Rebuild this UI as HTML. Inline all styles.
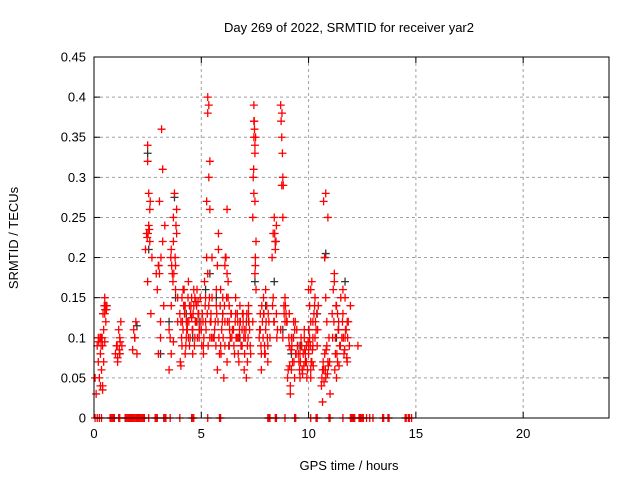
<!DOCTYPE html>
<html><head><meta charset="utf-8"><style>
body{margin:0;background:#fff;}
svg{display:block;font-family:"Liberation Sans",sans-serif;}
</style></head><body>
<svg id="chart" width="640" height="480">
<rect width="640" height="480" fill="#fff"/>
<g id="grid"></g>
<g id="ticks"></g>
<g id="pts"></g>
<rect x="94" y="57" width="515" height="361" fill="none" stroke="#000" stroke-width="1"/>
<text x="349" y="32" font-size="13" text-anchor="middle">Day 269 of 2022, SRMTID for receiver yar2</text>
<text x="349" y="470" font-size="13" text-anchor="middle">GPS time / hours</text>
<text x="0" y="0" font-size="13" text-anchor="middle" transform="translate(18,238) rotate(-90)">SRMTID / TECUs</text>
</svg>
<script>
const xTicks=[0,5,10,15,20];
const yTicks=[0,0.05,0.1,0.15,0.2,0.25,0.3,0.35,0.4,0.45];
const yTickLabels=["0","0.05","0.1","0.15","0.2","0.25","0.3","0.35","0.4","0.45"];
const redX=[0.05,0.1,0.15,0.2,0.25,0.3,0.3,0.35,0.35,0.4,0.4,0.45,0.45,0.5,0.5,0.5,0.55,0.55,0.6,0.2,0.3,0.4,
1.0,1.05,1.1,1.15,1.2,1.2,1.25,1.3,1.1,1.8,1.85,1.9,1.95,2.0,
2.4,2.45,2.5,2.5,2.55,2.55,2.6,2.6,2.65,2.5,2.7,
2.95,3.0,3.05,3.1,3.1,3.15,3.2,3.2,3.0,3.25,3.3,2.9,3.05,
3.5,3.55,3.6,3.6,3.65,3.7,3.7,3.75,3.8,3.8,3.85,3.9,3.9,3.6,3.7,3.5,3.85,
4.0,4.05,4.1,4.15,4.2,4.25,4.3,4.35,4.4,4.45,4.5,4.55,4.6,4.65,4.7,4.75,4.8,4.85,4.9,4.95,4.1,4.2,4.3,4.4,4.5,4.6,4.7,4.8,4.9,4.15,4.35,4.55,4.75,
5.0,5.05,5.1,5.15,5.2,5.25,5.3,5.3,5.35,5.35,5.4,5.4,5.4,5.45,5.5,5.5,5.1,5.2,5.3,5.45,5.55,5.35,5.25,
5.6,5.65,5.7,5.75,5.8,5.85,5.9,5.95,6.0,6.05,6.1,6.15,6.2,6.25,6.3,6.35,6.4,6.45,5.7,5.8,5.9,6.0,6.1,6.2,6.3,6.1,6.2,6.25,5.75,6.35,
6.5,6.55,6.6,6.65,6.7,6.75,6.8,6.85,6.9,6.95,7.0,7.05,7.1,7.15,7.2,7.25,7.3,6.6,6.7,6.8,6.9,7.0,7.1,7.2,6.75,6.95,7.15,
7.4,7.42,7.45,7.45,7.48,7.5,7.5,7.52,7.55,7.55,7.45,7.5,7.4,7.5,7.45,
7.7,7.75,7.8,7.85,7.9,7.95,8.0,8.05,8.1,8.15,8.2,7.8,7.9,8.0,8.1,7.75,7.95,
8.3,8.35,8.4,8.45,8.5,8.55,8.35,8.45,8.5,8.4,
8.7,8.72,8.75,8.75,8.78,8.8,8.8,8.85,8.9,8.95,8.7,8.8,8.9,9.0,
9.05,9.1,9.15,9.2,9.25,9.3,9.35,9.4,9.45,9.5,9.1,9.2,9.3,9.4,9.15,9.35,
9.55,9.6,9.65,9.7,9.75,9.8,9.85,9.9,9.95,10.0,10.05,10.1,10.15,10.2,9.6,9.7,9.8,9.9,10.0,10.1,9.65,9.85,
10.0,10.05,10.1,10.15,10.2,10.25,10.3,10.35,10.4,10.45,10.1,10.2,10.3,
10.6,10.65,10.7,10.75,10.8,10.85,10.9,10.95,11.0,10.7,10.8,10.9,10.75,10.8,10.85,10.65,
11.1,11.15,11.2,11.25,11.3,11.35,11.4,11.45,11.5,11.2,11.3,11.4,11.25,11.35,
11.55,11.6,11.65,11.7,11.75,11.8,11.85,11.9,11.95,11.6,11.7,11.8,12.3];
const redY=[0.05,0.03,0.09,0.1,0.05,0.04,0.08,0.1,0.06,0.04,0.09,0.11,0.07,0.15,0.13,0.095,0.14,0.12,0.14,0.07,0.1,0.035,
0.08,0.09,0.07,0.11,0.1,0.08,0.12,0.09,0.075,0.085,0.11,0.1,0.12,0.08,
0.21,0.23,0.34,0.32,0.28,0.24,0.22,0.26,0.13,0.17,0.2,
0.16,0.19,0.18,0.12,0.1,0.36,0.31,0.22,0.08,0.14,0.24,0.18,0.27,
0.06,0.1,0.14,0.21,0.18,0.25,0.22,0.28,0.19,0.16,0.26,0.12,0.15,0.08,0.095,0.11,0.23,
0.13,0.12,0.15,0.11,0.16,0.14,0.1,0.12,0.17,0.09,0.13,0.15,0.11,0.14,0.1,0.12,0.16,0.13,0.11,0.15,0.09,0.14,0.12,0.1,0.13,0.08,0.15,0.12,0.1,0.16,0.11,0.125,0.145,
0.11,0.13,0.09,0.17,0.12,0.2,0.4,0.38,0.39,0.3,0.32,0.26,0.1,0.13,0.15,0.2,0.08,0.15,0.18,0.12,0.1,0.14,0.27,
0.1,0.12,0.14,0.19,0.21,0.08,0.16,0.11,0.13,0.05,0.09,0.2,0.18,0.15,0.12,0.1,0.13,0.11,0.16,0.23,0.09,0.15,0.12,0.07,0.14,0.19,0.26,0.17,0.06,0.1,
0.11,0.08,0.13,0.1,0.12,0.07,0.14,0.09,0.11,0.13,0.06,0.1,0.12,0.09,0.14,0.11,0.08,0.15,0.1,0.12,0.09,0.11,0.05,0.13,0.1,0.12,0.07,
0.25,0.3,0.35,0.39,0.36,0.33,0.27,0.2,0.22,0.16,0.37,0.34,0.12,0.18,0.28,
0.1,0.13,0.08,0.12,0.15,0.09,0.11,0.14,0.07,0.12,0.1,0.06,0.13,0.16,0.09,0.11,0.08,
0.2,0.23,0.25,0.21,0.13,0.11,0.15,0.22,0.24,0.12,
0.39,0.37,0.35,0.29,0.33,0.3,0.25,0.14,0.12,0.13,0.11,0.1,0.15,0.12,
0.06,0.09,0.04,0.1,0.07,0.12,0.05,0.08,0.11,0.09,0.13,0.06,0.1,0.08,0.03,0.11,
0.07,0.05,0.09,0.06,0.08,0.1,0.07,0.09,0.06,0.08,0.1,0.05,0.07,0.09,0.08,0.06,0.11,0.07,0.09,0.06,0.1,0.08,
0.16,0.14,0.12,0.17,0.1,0.13,0.15,0.11,0.09,0.14,0.16,0.12,0.1,
0.04,0.02,0.06,0.08,0.05,0.09,0.07,0.1,0.03,0.27,0.28,0.25,0.2,0.15,0.12,0.06,
0.13,0.16,0.18,0.1,0.14,0.07,0.12,0.09,0.15,0.17,0.05,0.11,0.08,0.13,
0.1,0.13,0.08,0.15,0.11,0.07,0.12,0.09,0.14,0.16,0.1,0.12,0.09];
const redX2=[0.22,0.28,0.33,0.38,0.42,0.48,0.52,0.58,1.08,1.18,1.22,1.9,2.48,2.52,2.58,2.62,3.02,3.12,3.58,3.62,3.68,3.72,3.78,3.82,
4.02,4.08,4.12,4.18,4.22,4.28,4.32,4.38,4.42,4.48,4.52,4.58,4.62,4.68,4.72,4.78,4.82,4.88,4.92,4.98,4.05,4.25,4.45,4.65,4.85,
5.02,5.08,5.12,5.18,5.22,5.28,5.32,5.38,5.42,5.48,5.62,5.68,5.72,5.78,5.82,5.88,5.92,5.98,6.02,6.08,6.12,6.18,6.22,6.28,6.32,6.38,6.42,
6.52,6.58,6.62,6.68,6.72,6.78,6.82,6.88,6.92,6.98,7.02,7.08,7.12,7.18,7.22,7.28,7.47,7.53,7.44,7.52,
7.72,7.78,7.82,7.88,7.92,7.98,8.02,8.08,8.12,8.32,8.38,8.42,8.48,8.52,8.76,8.82,8.86,8.92,8.98,
9.02,9.08,9.12,9.18,9.22,9.28,9.32,9.38,9.42,9.48,9.52,9.58,9.62,9.68,9.72,9.78,9.82,9.88,9.92,9.98,10.02,10.08,10.12,10.18,10.22,10.28,10.32,10.38,10.42,
10.62,10.68,10.72,10.78,10.82,10.88,10.92,10.98,11.12,11.18,11.22,11.28,11.32,11.38,11.42,11.48,11.58,11.62,11.68,11.72,11.78,11.82];
const redY2=[0.095,0.1,0.09,0.1,0.13,0.14,0.135,0.135,0.09,0.085,0.095,0.1,0.225,0.23,0.235,0.27,0.19,0.2,0.2,0.19,0.17,0.18,0.2,0.24,
0.07,0.1,0.12,0.14,0.13,0.09,0.11,0.15,0.12,0.1,0.14,0.11,0.13,0.09,0.12,0.14,0.1,0.13,0.11,0.12,0.065,0.08,0.14,0.16,0.145,
0.09,0.12,0.1,0.14,0.11,0.13,0.09,0.15,0.12,0.1,0.11,0.09,0.13,0.12,0.1,0.14,0.08,0.12,0.1,0.14,0.2,0.15,0.12,0.09,0.11,0.13,0.1,
0.09,0.12,0.1,0.13,0.08,0.11,0.12,0.09,0.13,0.1,0.08,0.11,0.13,0.1,0.12,0.09,0.37,0.35,0.31,0.19,
0.11,0.09,0.14,0.1,0.13,0.08,0.12,0.1,0.13,0.14,0.12,0.23,0.22,0.1,0.38,0.29,0.13,0.14,0.12,
0.05,0.1,0.065,0.085,0.09,0.1,0.07,0.12,0.08,0.09,0.08,0.06,0.07,0.09,0.055,0.065,0.085,0.07,0.05,0.095,0.11,0.09,0.07,0.085,0.065,0.14,0.12,0.13,0.11,
0.05,0.07,0.045,0.06,0.085,0.055,0.065,0.07,0.1,0.12,0.06,0.14,0.08,0.11,0.065,0.09,0.12,0.1,0.085,0.11,0.075,0.1];
const zeroX=[0.05,0.15,0.25,0.35,0.75,0.8,0.85,0.9,0.95,1.15,1.2,1.45,1.5,1.55,1.6,1.65,1.7,1.75,1.8,1.85,1.9,1.95,2.0,2.05,2.1,2.15,2.2,2.25,2.3,2.35,2.55,2.85,2.9,2.95,3.25,3.3,3.35,3.55,4.0,4.55,4.6,4.65,5.3,5.85,5.9,8.1,8.15,8.2,8.45,8.5,8.9,9.35,9.4,10.1,10.35,10.4,10.95,11.0,11.6,11.95,12.0,12.05,12.1,12.15,12.35,12.4,12.45,12.5,12.55,12.7,12.85,13.0,13.45,13.5,13.7,13.75,14.5,14.55,14.65,14.7,14.8];
const blackX=[0.3,0.5,1.2,2.0,2.5,3.1,3.5,3.8,4.3,4.6,4.9,5.2,5.7,6.0,6.3,6.8,7.2,7.5,8.0,8.4,8.8,9.2,9.6,10.0,10.4,10.75,10.8,11.3,11.7,2.55,3.75,5.4,8.45];
const blackY=[0.1,0.14,0.08,0.115,0.33,0.08,0.12,0.15,0.13,0.1,0.12,0.16,0.15,0.13,0.09,0.1,0.12,0.17,0.14,0.17,0.11,0.08,0.09,0.11,0.13,0.2,0.205,0.1,0.17,0.21,0.275,0.18,0.22];
const X0=94,X1=609,Y0=418,Y1=57;
const xs=v=>X0+v/24*(X1-X0);
const ys=v=>Y0-v/0.45*(Y0-Y1);
const NS="http://www.w3.org/2000/svg";
const grid=document.getElementById('grid'),ticks=document.getElementById('ticks'),pts=document.getElementById('pts');
function mk(tag,attrs,parent){const e=document.createElementNS(NS,tag);for(const k in attrs)e.setAttribute(k,attrs[k]);parent.appendChild(e);return e;}
yTicks.forEach((v,i)=>{const y=ys(v);
 if(i>0&&i<yTicks.length-1){const g=mk('line',{x1:X0,x2:X1,y1:y,y2:y,stroke:'#a0a0a0','stroke-dasharray':'3,3'},grid);
 
 }
 mk('line',{x1:X0,x2:X0+6,y1:y,y2:y,stroke:'#000'},ticks);
 mk('line',{x1:X1-6,x2:X1,y1:y,y2:y,stroke:'#000'},ticks);
 const t=mk('text',{x:X0-8,y:y+4.5,'font-size':13,'text-anchor':'end'},ticks);t.textContent=yTickLabels[i];
 
 
});
xTicks.forEach(v=>{const x=xs(v);
 if(v>0){const g=mk('line',{x1:x,x2:x,y1:Y1,y2:Y0,stroke:'#a0a0a0','stroke-dasharray':'3,3'},grid);
 
 }
 mk('line',{x1:x,x2:x,y1:Y0,y2:Y0-6,stroke:'#000'},ticks);
 mk('line',{x1:x,x2:x,y1:Y1,y2:Y1+6,stroke:'#000'},ticks);
 const t=mk('text',{x:x,y:Y0+20,'font-size':13,'text-anchor':'middle'},ticks);t.textContent=v;
 
 
});
function plus(x,y,col,name){const px=xs(x),py=ys(y);
 const p=mk('path',{d:`M${px-4},${py}h8M${px},${py-4}v8`,stroke:col,'stroke-width':1.3,fill:'none'},pts);
 
 }
blackX.forEach((x,i)=>plus(x,blackY[i],'#333','black-point'));
redX.forEach((x,i)=>plus(x,redY[i],'#ff0000','red-point'));
redX2.forEach((x,i)=>plus(x,redY2[i],'#ff0000','red-point'));
zeroX.forEach(x=>plus(x,0,'#ff0000','zero-point'));
</script>
</body></html>
